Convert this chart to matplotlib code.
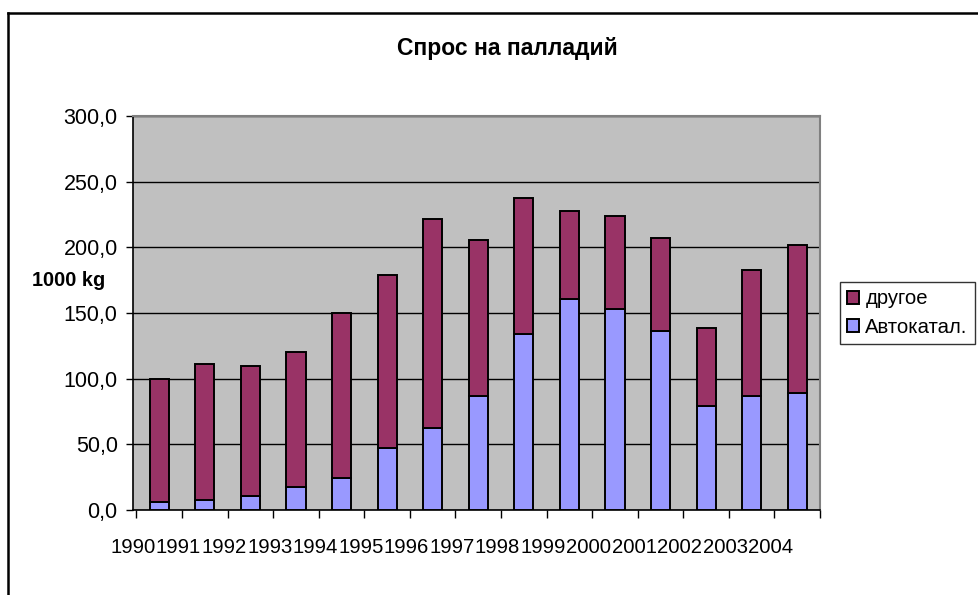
import numpy as np
import matplotlib
matplotlib.use("Agg")
import matplotlib.pyplot as plt
from matplotlib.lines import Line2D

plt.rcParams['font.family'] = ['Liberation Sans', 'DejaVu Sans']

years = ["1990", "1991", "1992", "1993", "1994", "1995", "1996", "1997",
         "1998", "1999", "2000", "2001", "2002", "2003", "2004"]
# Автокатал. (autocatalysts) and total demand, 1000 kg
autocat = [6.1, 7.4, 10.9, 17.3, 24.6, 47.5, 62.2, 86.6,
           134.0, 160.7, 153.0, 136.5, 79.2, 86.6, 88.8]
total = [100.0, 111.0, 109.6, 120.5, 149.8, 179.0, 221.6, 205.6,
         237.3, 227.7, 223.9, 207.0, 138.6, 182.5, 201.8]
other = [t - a for t, a in zip(total, autocat)]

yticks = [0, 50, 100, 150, 200, 250, 300]

fig = plt.figure(figsize=(9.79, 5.95), dpi=100)

# outer chart frame (only left and top visible in picture)
fig.add_artist(Line2D([8 / 979, 8 / 979], [0, 1 - 13 / 595], color="black", lw=1.8))
fig.add_artist(Line2D([8 / 979, 1], [1 - 13 / 595, 1 - 13 / 595], color="black", lw=1.8))

ax = fig.add_axes([133 / 979, 1 - 510 / 595, 687 / 979, 394 / 595])
ax.set_facecolor("#C0C0C0")

x = np.arange(len(years))
ax.bar(x, autocat, width=0.42, color="#9999FF", edgecolor="black", linewidth=1.4,
       label="Автокатал.", zorder=3)
ax.bar(x, other, width=0.42, bottom=autocat, color="#993366", edgecolor="black",
       linewidth=1.4, label="другое", zorder=3)

ax.set_xlim(-0.5, len(years) - 0.5)
ax.set_ylim(0, 300)

# y axis
ax.set_yticks(yticks)
ax.set_yticklabels([f"{v:.1f}".replace(".", ",") for v in yticks], fontsize=15.5)
ax.yaxis.grid(True, color="black", lw=1.0, zorder=1)
ax.tick_params(axis="y", direction="out", length=5, width=1, pad=6)

# x axis: ticks at category boundaries, labels squeezed left and low
ax.set_xticks(np.arange(len(years) + 1) - 0.5)
ax.set_xticklabels([])
ax.tick_params(axis="x", which="major", direction="out", length=6, width=1)
ax.set_xticks(x - 0.576, minor=True)
ax.set_xticklabels(years, minor=True, fontsize=14.6)
ax.tick_params(axis="x", which="minor", length=0, pad=20)

for side in ("top", "right"):
    ax.spines[side].set_color("#808080")
    ax.spines[side].set_linewidth(1.5)
for side in ("left", "bottom"):
    ax.spines[side].set_color("black")
    ax.spines[side].set_linewidth(1.2)

fig.text(507 / 979, 1 - 48 / 595, "Спрос на палладий", ha="center", va="center",
         fontsize=16.5, fontweight="bold")
fig.text(69 / 979, 1 - 281 / 595, "1000 kg", ha="center", va="center",
         fontsize=14.3, fontweight="bold")

handles, labels = ax.get_legend_handles_labels()
leg = fig.legend(handles[::-1], labels[::-1], loc="center left",
                 bbox_to_anchor=(840 / 979, 1 - 313 / 595), fontsize=14.6,
                 frameon=True, fancybox=False, edgecolor="black",
                 handlelength=0.6, handleheight=0.6, handletextpad=0.3,
                 borderpad=0.35, labelspacing=0.45, borderaxespad=0)
leg.get_frame().set_linewidth(1.0)

fig.savefig("out.png", dpi=100)
